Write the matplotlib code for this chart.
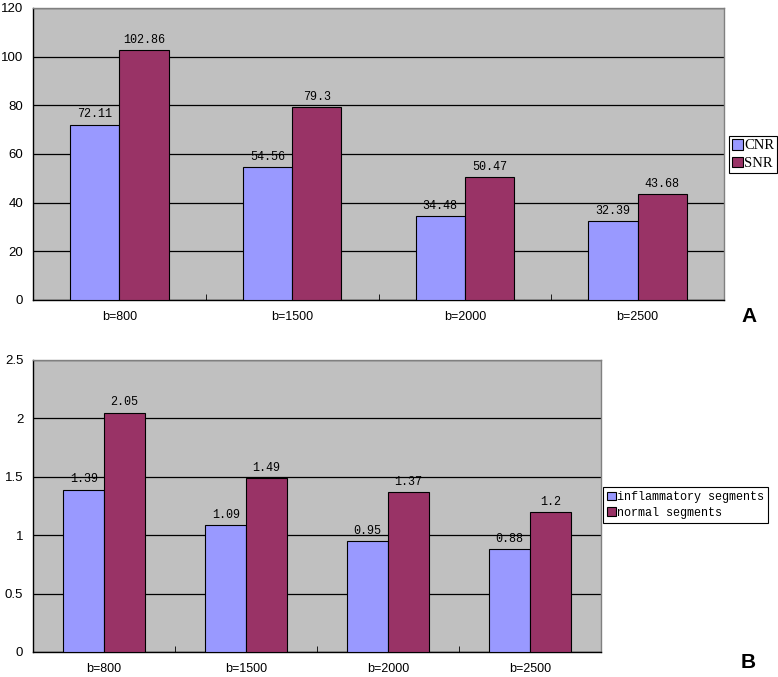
import matplotlib
matplotlib.use("Agg")
import matplotlib.pyplot as plt
import numpy as np

categories = ["b=800", "b=1500", "b=2000", "b=2500"]
cnr = [72.11, 54.56, 34.48, 32.39]
snr = [102.86, 79.3, 50.47, 43.68]
cnr_labels = ["72.11", "54.56", "34.48", "32.39"]
snr_labels = ["102.86", "79.3", "50.47", "43.68"]
inflam = [1.39, 1.09, 0.95, 0.88]
normal = [2.05, 1.49, 1.37, 1.2]
inflam_labels = ["1.39", "1.09", "0.95", "0.88"]
normal_labels = ["2.05", "1.49", "1.37", "1.2"]

BLUE = "#9999FF"
MAROON = "#993366"
BG = "#C0C0C0"
MONO = ["Liberation Mono", "DejaVu Sans Mono"]
SERIF = ["Liberation Serif", "DejaVu Serif"]
SANS = ["Liberation Sans", "DejaVu Sans"]

fig = plt.figure(figsize=(7.78, 6.77), dpi=100)

def panel(rect, s1, s2, l1, l2, names, ymax, ystep, yfmt, legend_rect, leg_font, leg_pad,
          letter, letter_xy):
    ax = fig.add_axes(rect)
    ax.set_facecolor(BG)
    n = len(categories)
    x = np.arange(n)
    w = 1 / 3.5
    b1 = ax.bar(x - w / 2, s1, w, color=BLUE, edgecolor="black", linewidth=0.8, label=names[0], zorder=3)
    b2 = ax.bar(x + w / 2, s2, w, color=MAROON, edgecolor="black", linewidth=0.8, label=names[1], zorder=3)
    for rects, labs in ((b1, l1), (b2, l2)):
        for r, t in zip(rects, labs):
            ax.annotate(t, (r.get_x() + r.get_width() / 2, r.get_height()),
                        xytext=(0, 3), textcoords="offset points", ha="center", va="bottom",
                        fontsize=8.5, family=MONO, zorder=4)
    ax.set_xlim(-0.5, n - 0.5)
    ax.set_ylim(0, ymax)
    yt = np.arange(0, ymax + ystep / 2, ystep)
    ax.set_yticks(yt)
    ax.set_yticklabels([yfmt(v) for v in yt], family=SANS, fontsize=9.5)
    ax.set_xticks(x)
    ax.set_xticklabels(categories, family=SANS, fontsize=9)
    ax.set_xticks(np.arange(0.5, n - 1, 1), minor=True)
    ax.tick_params(axis="x", which="major", length=0, pad=8)
    ax.tick_params(axis="x", which="minor", length=4, direction="in", color="black")
    ax.tick_params(axis="y", length=0, pad=7)
    ax.yaxis.grid(True, color="black", linewidth=0.9, zorder=1)
    ax.set_axisbelow(True)
    for s in ("left", "bottom"):
        ax.spines[s].set_color("black")
        ax.spines[s].set_linewidth(1.0)
    for s in ("top", "right"):
        ax.spines[s].set_color("#808080")
        ax.spines[s].set_linewidth(1.0)
    leg = fig.legend(handles=[b1, b2], labels=names, loc="upper left",
                     bbox_to_anchor=legend_rect, prop=leg_font,
                     frameon=True, fancybox=False, edgecolor="black", framealpha=1,
                     handlelength=0.75, handleheight=0.75, handletextpad=0.1,
                     borderpad=leg_pad, labelspacing=0.3, borderaxespad=0)
    leg.get_frame().set_linewidth(0.8)
    fig.text(letter_xy[0], letter_xy[1], letter, fontsize=15, fontweight="bold",
             family=SANS, ha="center", va="center")
    return ax

def fmt_int(v):
    return "%d" % v

def fmt_half(v):
    return ("%g" % v)

panel([33 / 778, 1 - 300 / 677, 691 / 778, 292 / 677], cnr, snr, cnr_labels, snr_labels,
      ["CNR", "SNR"], 120, 20, fmt_int, (729 / 778, 1 - 136 / 677),
      {"family": SERIF, "size": 10.5}, 0.2, "A", (749.5 / 778, 1 - 317 / 677))
panel([33 / 778, 1 - 652 / 677, 568 / 778, 292 / 677], inflam, normal, inflam_labels, normal_labels,
      ["inflammatory segments", "normal segments"], 2.5, 0.5, fmt_half, (603 / 778, 1 - 487 / 677),
      {"family": MONO, "size": 8.5}, 0.35, "B", (748 / 778, 1 - 662 / 677))

fig.savefig("out.png", dpi=100, facecolor="white")
